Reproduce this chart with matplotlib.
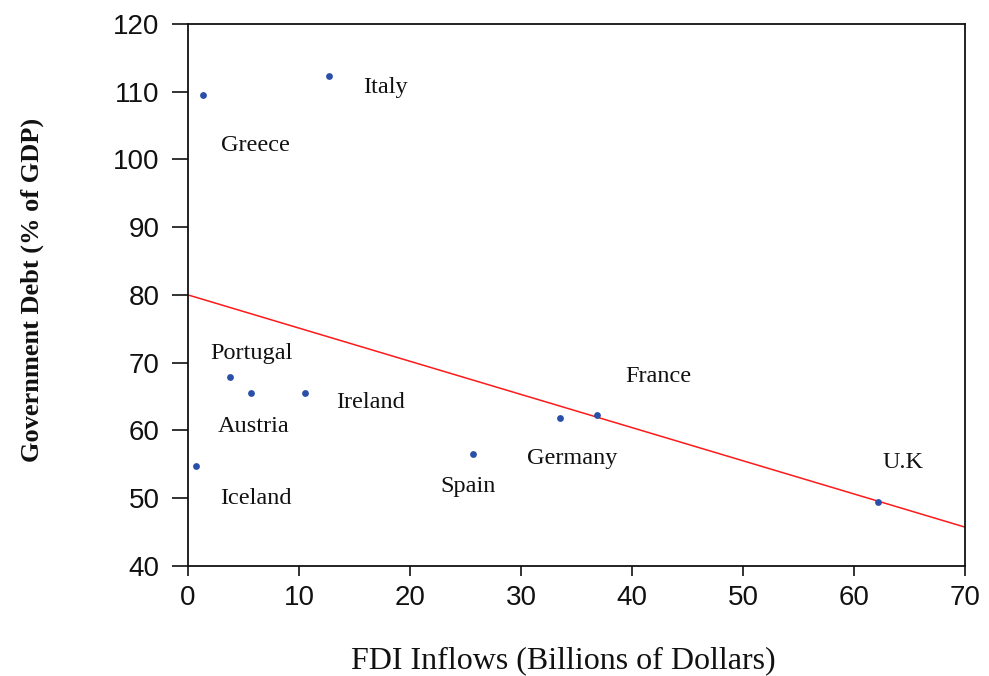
import numpy as np
import matplotlib.pyplot as plt

# values
countries = ['Greece', 'Italy', 'Portugal', 'Austria', 'Ireland',
             'Iceland', 'Spain', 'Germany', 'France', 'U.K']
fdi = [1.35, 12.7, 3.8, 5.7, 10.5, 0.7, 25.7, 33.5, 36.8, 62.1]
debt = [109.5, 112.3, 67.9, 65.5, 65.5, 54.8, 56.5, 61.8, 62.3, 49.4]

# where each country name sits
label_x = [6.1, 17.8, 5.7, 5.9, 16.4, 6.1, 25.2, 34.6, 42.4, 64.4]
label_y = [102.0, 110.6, 71.4, 60.5, 64.1, 50.0, 51.7, 55.8, 67.9, 55.3]

# fitted trend line (intercept, slope) as drawn
fit_intercept = 80.0
fit_slope = -0.49

fig = plt.figure(figsize=(9.89, 6.76), dpi=100)
ax = fig.add_axes([0.190, 0.163, 0.786, 0.8015])

ax.scatter(fdi, debt, s=24, color='#2a4fa8', zorder=3, linewidths=0)

x_line = np.array([0, 70])
ax.plot(x_line, fit_intercept + fit_slope * x_line, color='#ff1a1a', linewidth=1.1)

for name, lx, ly in zip(countries, label_x, label_y):
    ax.text(lx, ly, name, family='Liberation Serif', fontsize=17.5,
            ha='center', va='center', color='#111111')

ax.set_xlim(0, 70)
ax.set_ylim(40, 120)
ax.set_xticks(range(0, 71, 10))
ax.set_yticks(range(40, 121, 10))
ax.tick_params(direction='out', width=1.2, labelsize=20,
               colors='#111111')
ax.tick_params(axis='x', length=7.5, pad=6)
ax.tick_params(axis='y', length=11.5, pad=9)
for lab in ax.get_xticklabels() + ax.get_yticklabels():
    lab.set_family('Liberation Sans')
for sp in ax.spines.values():
    sp.set_linewidth(1.3)
    sp.set_color('#111111')

ax.set_xlabel('FDI Inflows (Billions of Dollars)', family='Liberation Serif',
              fontsize=23, color='#111111')
ax.xaxis.set_label_coords(0.4826, -0.1476)
ax.set_ylabel('Government Debt (% of GDP)', family='Liberation Serif',
              fontsize=19, fontweight='bold', color='#111111')
ax.yaxis.set_label_coords(-0.1854, 0.509)

fig.savefig('out.png', dpi=100)
